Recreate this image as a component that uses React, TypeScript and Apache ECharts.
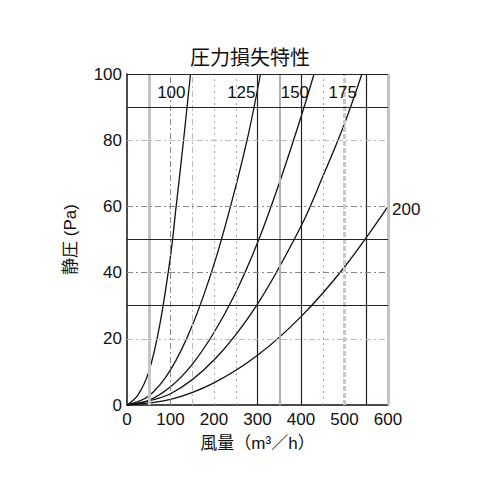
import { useEffect, useRef } from 'react'
import * as echarts from 'echarts'

// duct sizes and their curves [airflow m3/h, static pressure Pa]
const ductSizes = ['100', '125', '150', '175', '200']
const curve100 = [[0, 0], [25, 3], [50, 10], [75, 24], [100, 45], [113, 60], [130, 80], [146, 100]]
const curve125 = [[0, 0], [50, 2.7], [100, 10.6], [150, 24], [200, 42.5], [238, 60], [276, 80], [307, 100]]
const curve150 = [[0, 0], [50, 1.4], [100, 5.5], [150, 12.3], [200, 21.9], [250, 34], [300, 49], [350, 67], [400, 87], [430, 100]]
const curve175 = [[0, 0], [100, 3.4], [200, 13.6], [300, 30.5], [400, 54], [450, 69], [500, 85], [540, 100]]
const curve200 = [[0, 0], [100, 1.7], [200, 6.7], [300, 15], [400, 26.7], [500, 41.7], [600, 60]]
const curves = [curve100, curve125, curve150, curve175, curve200]

const xGridValues = [50, 100, 150, 200, 250, 300, 350, 400, 450, 500, 550, 600]
const yGridValues = [20, 30, 40, 50, 60, 80, 90, 100]

const SOLID = { color: '#222', width: 1.2, type: 'solid' }
const THICK = { color: '#c4c4c4', width: 3, type: 'solid' }
const DASHDOT = { color: '#888', width: 1, type: [6, 3, 2, 3] }
const DASHDOT_LIGHT = { color: '#bbb', width: 1, type: [6, 3, 2, 3] }
const DOTTED = { color: '#aaa', width: 1, type: [2, 4] }
const GRAY = { color: '#b0b0b0', width: 2, type: 'solid' }
const THICK_DASH = { color: '#c8c8c8', width: 3, type: [5, 2] }

const xGridStyles = [THICK, DASHDOT, DASHDOT_LIGHT, DOTTED, DOTTED, SOLID, GRAY, SOLID, DOTTED, THICK_DASH, SOLID, THICK]
const yGridStyles = [DASHDOT_LIGHT, SOLID, DASHDOT, SOLID, DASHDOT, DASHDOT_LIGHT, SOLID, SOLID]

const FONT = '"Liberation Sans", "Noto Sans CJK JP", sans-serif'

export default function App() {
  const ref = useRef<HTMLDivElement>(null)

  useEffect(() => {
    if (!ref.current) return
    const chart = echarts.init(ref.current, undefined, { renderer: 'svg' })

    const gridLines = [
      ...xGridValues.map((v, i) => ({ xAxis: v, lineStyle: xGridStyles[i] })),
      ...yGridValues.map((v, i) => ({ yAxis: v, lineStyle: yGridStyles[i] })),
    ]

    chart.setOption({
      animation: false,
      backgroundColor: '#fff',
      textStyle: { fontFamily: FONT },
      title: {
        text: '圧力損失特性',
        left: 'center',
        top: 43,
        textStyle: { fontSize: 20, fontWeight: 'normal', color: '#111', fontFamily: FONT },
      },
      grid: { left: 127, top: 74, width: 261, height: 331 },
      xAxis: {
        type: 'value',
        min: 0,
        max: 600,
        interval: 100,
        name: '風量（m³／h）',
        nameLocation: 'middle',
        nameGap: 30,
        nameTextStyle: { fontSize: 17, color: '#111' },
        axisLine: { lineStyle: { color: '#111', width: 1.5 } },
        axisTick: { show: false },
        splitLine: { show: false },
        axisLabel: { fontSize: 17, color: '#111', margin: 6 },
      },
      yAxis: {
        type: 'value',
        min: 0,
        max: 100,
        interval: 20,
        name: '静圧 (Pa)',
        nameLocation: 'middle',
        nameGap: 48,
        nameTextStyle: { fontSize: 17, color: '#111' },
        axisLine: { show: true, lineStyle: { color: '#111', width: 1.5 } },
        axisTick: { show: false },
        splitLine: { show: false },
        axisLabel: { fontSize: 17, color: '#111', margin: 5 },
      },
      series: [
        {
          type: 'line',
          data: [],
          silent: true,
          markLine: {
            silent: true,
            symbol: 'none',
            label: { show: false },
            data: gridLines,
          },
        },
        ...curves.map((data, i) => {
          const end = data[data.length - 1]
          const isLast = i === curves.length - 1
          return {
            type: 'line',
            name: ductSizes[i],
            data,
            smooth: 0.35,
            showSymbol: false,
            lineStyle: { color: '#111', width: 1.3 },
            markPoint: {
              symbolSize: 0,
              data: [
                {
                  coord: end,
                  label: {
                    show: true,
                    formatter: ductSizes[i],
                    position: isLast ? 'right' : 'left',
                    offset: isLast ? [0, 3] : [-1, 18],
                    distance: 4,
                    fontSize: 17,
                    color: '#111',
                    fontFamily: FONT,
                  },
                },
              ],
            },
          }
        }),
      ],
    })

    return () => {
      chart.dispose()
    }
  }, [])

  return <div ref={ref} style={{ position: 'fixed', left: 0, top: 0, width: 500, height: 500 }} />
}
